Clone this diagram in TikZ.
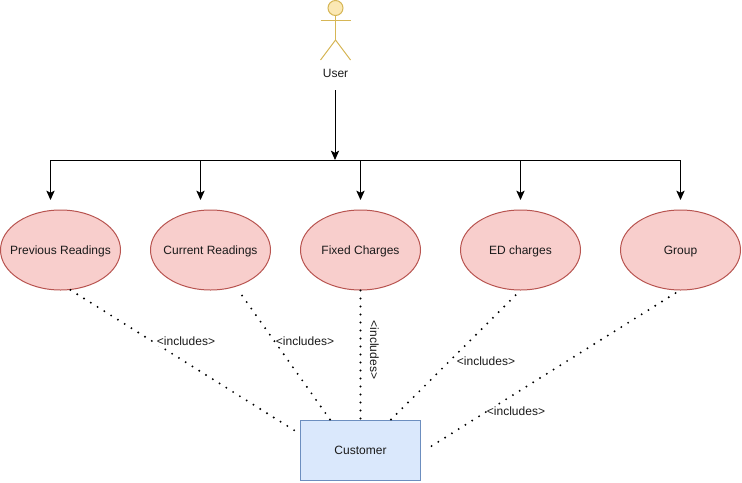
\documentclass[tikz,border=0pt]{standalone}
\usepackage{fontspec}
\setmainfont{Liberation Sans}
\usetikzlibrary{arrows.meta,shapes.geometric}
\definecolor{redfill}{HTML}{F8CECC}
\definecolor{redline}{HTML}{B85450}
\definecolor{bluefill}{HTML}{DAE8FC}
\definecolor{blueline}{HTML}{6C8EBF}
\definecolor{yellowfill}{HTML}{FBE8B4}
\definecolor{yellowline}{HTML}{D6B656}
\definecolor{inktext}{HTML}{1A1A1A}
\newcommand{\ctext}[1]{\makebox[0pt][c]{#1}}
\tikzset{
  x=0.75pt, y=-0.75pt,
  every node/.style={font=\fontsize{9}{11}\selectfont, text=inktext},
  usecase/.style={ellipse, draw=redline, fill=redfill, line width=0.75pt, minimum width=90pt, minimum height=60pt, inner sep=0pt, text height=8pt, text depth=1.5pt},
  sysbox/.style={rectangle, draw=blueline, fill=bluefill, line width=0.75pt, minimum width=90pt, minimum height=45pt, inner sep=0pt},
  actorline/.style={draw=yellowline, line width=0.75pt},
  arrowline/.style={draw=black, line width=0.75pt, -{Stealth[length=7pt,width=6.2pt,inset=1.6pt]}},
  busline/.style={draw=black, line width=0.75pt},
  dotline/.style={draw=black, line width=1.6pt, line cap=round, dash pattern=on 0pt off 6pt},
  edgelabel/.style={fill=white, inner xsep=0pt, inner ysep=0.5pt},
}
\begin{document}
\begin{tikzpicture}
\useasboundingbox (0,0) rectangle (742,482);
% actor
\node[circle, draw=yellowline, fill=yellowfill, line width=0.75pt, minimum size=11.25pt, inner sep=0pt] (head) at (335.5,8) {};
\coordinate (hip) at (335.5,40);
\coordinate (armL) at (320.5,20);
\coordinate (armR) at (350.5,20);
\coordinate (footL) at (320.5,60);
\coordinate (footR) at (350.5,60);
\draw[actorline] (head) -- (hip);
\draw[actorline] (armL) -- (armR);
\draw[actorline] (footL) -- (hip) -- (footR);
\node[inner sep=0pt] (user) at (335.5,73) {User};
% use cases
\node[usecase] (prev) at (60.5,250) {\ctext{Previous Readings}};
\node[usecase] (curr) at (210.5,250) {\ctext{Current Readings}};
\node[usecase] (fixed) at (360.5,250) {\ctext{Fixed Charges}};
\node[usecase] (ed) at (520.5,250) {\ctext{ED charges}};
\node[usecase] (group) at (680.5,250) {\ctext{Group}};
\node[sysbox] (cust) at (360.5,450) {Customer};
% tree of arrows
\coordinate (busL) at (50.5,160);
\coordinate (busA) at (200.5,160);
\coordinate (busM) at (335,160);
\coordinate (busB) at (360.5,160);
\coordinate (busC) at (520.5,160);
\coordinate (busR) at (680.5,160);
\coordinate (topL) at (50.5,200);
\coordinate (topA) at (200.5,200);
\coordinate (topB) at (360.5,200);
\coordinate (topC) at (520.5,200);
\coordinate (topR) at (680.5,200);
\coordinate (trunk) at (335,90);
\draw[busline] (busL) -- (busR);
\draw[arrowline] (trunk) -- (busM);
\draw[arrowline] (busL) -- (topL);
\draw[arrowline] (busA) -- (topA);
\draw[arrowline] (busB) -- (topB);
\draw[arrowline] (busC) -- (topC);
\draw[arrowline] (busR) -- (topR);
% dotted includes
\draw[dotline] (prev.-76) -- ([xshift=-1.5pt]cust.164);
\draw[dotline] (cust.135) -- ([yshift=-2.5pt]curr.-53);
\draw[dotline] (fixed.south) -- (cust.north);
\draw[dotline] (cust.45) -- ([yshift=-2pt]ed.-94);
\draw[dotline] ([yshift=-2pt]group.-97) -- ([xshift=7pt]cust.3);
% labels
\node[edgelabel] (l1) at (186,341) {<includes>};
\node[edgelabel] (l2) at (305,341) {<includes>};
\node[edgelabel, rotate=-90] (l3) at (374.5,350) {<includes>};
\node[edgelabel] (l4) at (486,361) {<includes>};
\node[edgelabel] (l5) at (516,411) {<includes>};
\end{tikzpicture}
\end{document}
